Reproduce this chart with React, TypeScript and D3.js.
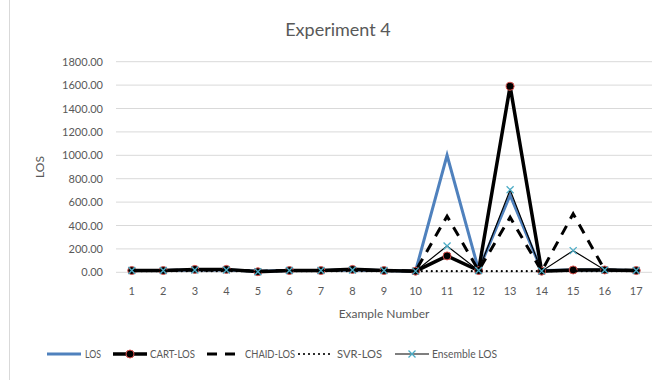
import React from "react";
import * as d3 from "d3";

const categories = ["1","2","3","4","5","6","7","8","9","10","11","12","13","14","15","16","17"];
const losValues = [15,15,20,20,10,15,15,20,15,10,1000,20,660,15,20,20,15];
const cartValues = [15,15,25,25,5,15,15,25,15,10,140,15,1590,10,20,20,15];
const chaidValues = [15,15,20,20,10,15,15,20,15,10,480,15,470,10,500,20,15];
const svrValues = [10,10,10,10,10,10,10,10,10,10,10,10,10,10,10,10,10];
const ensembleValues = [15,15,20,20,5,15,15,20,15,10,225,15,705,10,185,20,15];
const yTicks = [0,200,400,600,800,1000,1200,1400,1600,1800];
const yTickLabels = ["0.00","200.00","400.00","600.00","800.00","1000.00","1200.00","1400.00","1600.00","1800.00"];

const W = 659, H = 380;
const left = 116, right = 652, top = 61.7, bottom = 272.3;
const font = "Lato, 'Open Sans', sans-serif";

export default function App() {
  const x = d3.scaleBand().domain(categories).range([left, right]);
  const cx = (c: string) => (x(c) as number) + x.bandwidth() / 2;
  const y = d3.scaleLinear().domain([0, 1800]).range([bottom, top]);
  const line = (vals: number[]) =>
    d3.line<number>().x((_, i) => cx(categories[i])).y((v) => y(v))(vals) as string;

  const xMark = (px: number, py: number, s: number, key: any) => (
    <path key={key} d={`M${px - s},${py - s}L${px + s},${py + s}M${px - s},${py + s}L${px + s},${py - s}`} stroke="#4bacc6" strokeWidth={1.3} fill="none" />
  );

  const legendY = 354;
  return (
    <svg width={W} height={H} style={{ position: "absolute", left: 0, top: 0 }}>
      <rect x={0} y={0} width={W} height={H} fill="#fff" />
      <rect x={9.5} y={-1} width={W} height={H + 2} fill="none" stroke="#d9d9d9" />
      <text x={338} y={36} textAnchor="middle" fontFamily={font} fontSize={18} fill="#595959">Experiment 4</text>
      {yTicks.map((t, i) => (
        <g key={t}>
          <line x1={left} x2={right} y1={y(t)} y2={y(t)} stroke="#d9d9d9" strokeWidth={1} />
          <text x={103} y={y(t) + 4} textAnchor="end" fontFamily={font} fontSize={11} fill="#595959">{yTickLabels[i]}</text>
        </g>
      ))}
      {categories.map((c) => (
        <text key={c} x={cx(c)} y={295} textAnchor="middle" fontFamily={font} fontSize={11} fill="#595959">{c}</text>
      ))}
      <text x={384} y={318} textAnchor="middle" fontFamily={font} fontSize={12} fill="#595959">Example Number</text>
      <text transform={`translate(44,167) rotate(-90)`} textAnchor="middle" fontFamily={font} fontSize={12} fill="#595959">LOS</text>

      <path d={line(losValues)} fill="none" stroke="#4f81bd" strokeWidth={3} strokeLinejoin="miter" />
      <path d={line(cartValues)} fill="none" stroke="#000" strokeWidth={3.5} />
      {cartValues.map((v, i) => (
        <circle key={i} cx={cx(categories[i])} cy={y(v)} r={4} fill="#000" stroke="#d9534f" strokeWidth={1} />
      ))}
      <path d={line(chaidValues)} fill="none" stroke="#000" strokeWidth={3} strokeDasharray="10,8" />
      <path d={line(svrValues)} fill="none" stroke="#000" strokeWidth={2.2} strokeDasharray="0,5" strokeLinecap="round" />
      <path d={line(ensembleValues)} fill="none" stroke="#000" strokeWidth={1.2} />
      {ensembleValues.map((v, i) => xMark(cx(categories[i]), y(v), 3.5, i))}

      <g fontFamily={font} fontSize={11} fill="#595959">
        <line x1={47} x2={81} y1={legendY} y2={legendY} stroke="#4f81bd" strokeWidth={3} />
        <text x={85} y={legendY + 4} textLength={16} lengthAdjust="spacingAndGlyphs">LOS</text>
        <line x1={113} x2={147} y1={legendY} y2={legendY} stroke="#000" strokeWidth={3.5} />
        <circle cx={130} cy={legendY} r={4} fill="#000" stroke="#d9534f" strokeWidth={1} />
        <text x={150} y={legendY + 4} textLength={45} lengthAdjust="spacingAndGlyphs">CART-LOS</text>
        <line x1={207} x2={241} y1={legendY} y2={legendY} stroke="#000" strokeWidth={3} strokeDasharray="10,8" />
        <text x={245} y={legendY + 4} textLength={50} lengthAdjust="spacingAndGlyphs">CHAID-LOS</text>
        <line x1={299} x2={331} y1={legendY} y2={legendY} stroke="#000" strokeWidth={2.2} strokeDasharray="0,5" strokeLinecap="round" />
        <text x={337} y={legendY + 4} textLength={45} lengthAdjust="spacingAndGlyphs">SVR-LOS</text>
        <line x1={395} x2={429} y1={legendY} y2={legendY} stroke="#000" strokeWidth={1.2} />
        {xMark(412, legendY, 3.5, "lg")}
        <text x={432} y={legendY + 4} textLength={65} lengthAdjust="spacingAndGlyphs">Ensemble LOS</text>
      </g>
    </svg>
  );
}
